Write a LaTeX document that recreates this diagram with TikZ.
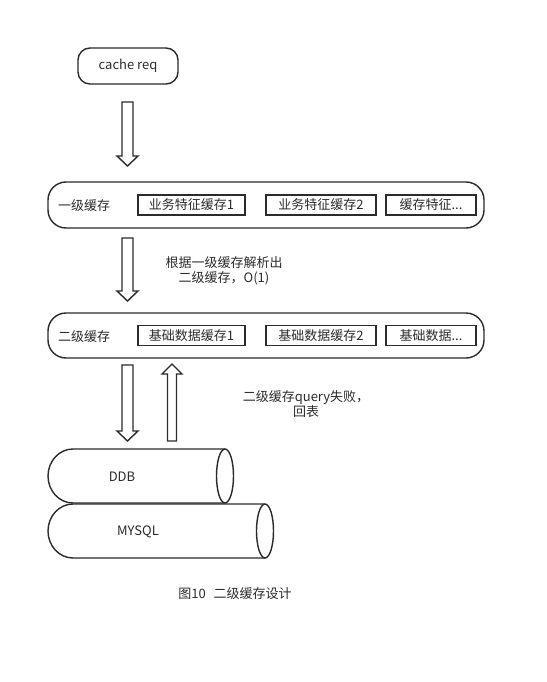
\documentclass[tikz,border=0pt]{standalone}
\usepackage{fontspec}
\setmainfont{Noto Sans CJK SC}
\usetikzlibrary{calc}
\definecolor{ink}{HTML}{2B2B2B}
\tikzset{
  lw/.style={line width=1.4pt, draw=ink},
  txt/.style={font=\fontsize{13}{15.5}\selectfont, text=ink, inner sep=0pt},
  outer/.style={lw, rounded corners=18pt, minimum width=436pt, minimum height=46pt, inner sep=0pt},
  cell/.style={lw, txt, minimum height=20pt, inner sep=0pt},
  blk/.style={lw, fill=white, line join=miter},
}
\newcommand{\downblk}[3]{\draw[blk] ($(#1)+(-#3,0)$) -- ($(#2)+(-#3,-10)$) -- ($(#2)+(-10.5,-10)$) -- (#2) -- ($(#2)+(10.5,-10)$) -- ($(#2)+(#3,-10)$) -- ($(#1)+(#3,0)$) -- cycle;}
\newcommand{\upblk}[3]{\draw[blk] ($(#1)+(-#3,0)$) -- ($(#2)+(-#3,10)$) -- ($(#2)+(-10,10)$) -- (#2) -- ($(#2)+(10,10)$) -- ($(#2)+(#3,10)$) -- ($(#1)+(#3,0)$) -- cycle;}
\begin{document}
\begin{tikzpicture}[x=1pt,y=-1pt]
\useasboundingbox[fill=white] (0,0) rectangle (546,682);
% cache req
\node[lw, txt, rounded corners=12pt, minimum width=100pt, minimum height=36pt] (req) at (128,66) {cache req};
% level 1
\node[outer] (l1) at (266,205) {};
\node[txt] (l1t) at (84,206) {一级缓存};
\node[cell, minimum width=107pt] (b11) at (191.5,205) {业务特征缓存1};
\node[cell, minimum width=110pt] (b12) at (321,205) {业务特征缓存2};
\node[cell, minimum width=90pt] (b13) at (431,205) {缓存特征...};
% level 2
\node[outer, minimum height=45pt] (l2) at (266,335.5) {};
\node[txt] (l2t) at (84,337) {二级缓存};
\node[cell, minimum width=107pt] (b21) at (191.5,335.5) {基础数据缓存1};
\node[cell, minimum width=110pt] (b22) at (321,335.5) {基础数据缓存2};
\node[cell, minimum width=90pt] (b23) at (431,335.5) {基础数据...};
% arrows
\coordinate (a1s) at (127.5,102);
\coordinate (a1e) at (127.5,166);
\coordinate (a2s) at (127.5,238);
\coordinate (a2e) at (127.5,301);
\coordinate (a3s) at (127.5,365);
\coordinate (a3e) at (127.5,441);
\coordinate (a4s) at (172,441);
\coordinate (a4e) at (172,364);
\downblk{a1s}{a1e}{5.5}
\downblk{a2s}{a2e}{5.5}
\downblk{a3s}{a3e}{5.5}
\upblk{a4s}{a4e}{4.5}
% labels
\node[txt, align=center] (m1) at (224,271) {根据一级缓存解析出\\二级缓存，O(1)};
\node[txt, align=center] (m2) at (306,404) {二级缓存query失败，\\回表};
% cylinders
\draw[lw, fill=white] (265,504) -- (73,504) arc[start angle=270, end angle=90, x radius=25, y radius=27] -- (265,558);
\draw[lw, fill=white] (265,531) ellipse [x radius=8.5, y radius=27];
\node[txt] (mysql) at (138,532) {MYSQL};
\draw[lw, fill=white] (225,449) -- (73,449) arc[start angle=270, end angle=90, x radius=25, y radius=27] -- (225,503);
\draw[lw, fill=white] (225,476) ellipse [x radius=8.5, y radius=27];
\node[txt] (ddb) at (122,477) {DDB};
% caption
\node[txt] (cap) at (235,594) {图10\hspace{0.6em}二级缓存设计};
\end{tikzpicture}
\end{document}
